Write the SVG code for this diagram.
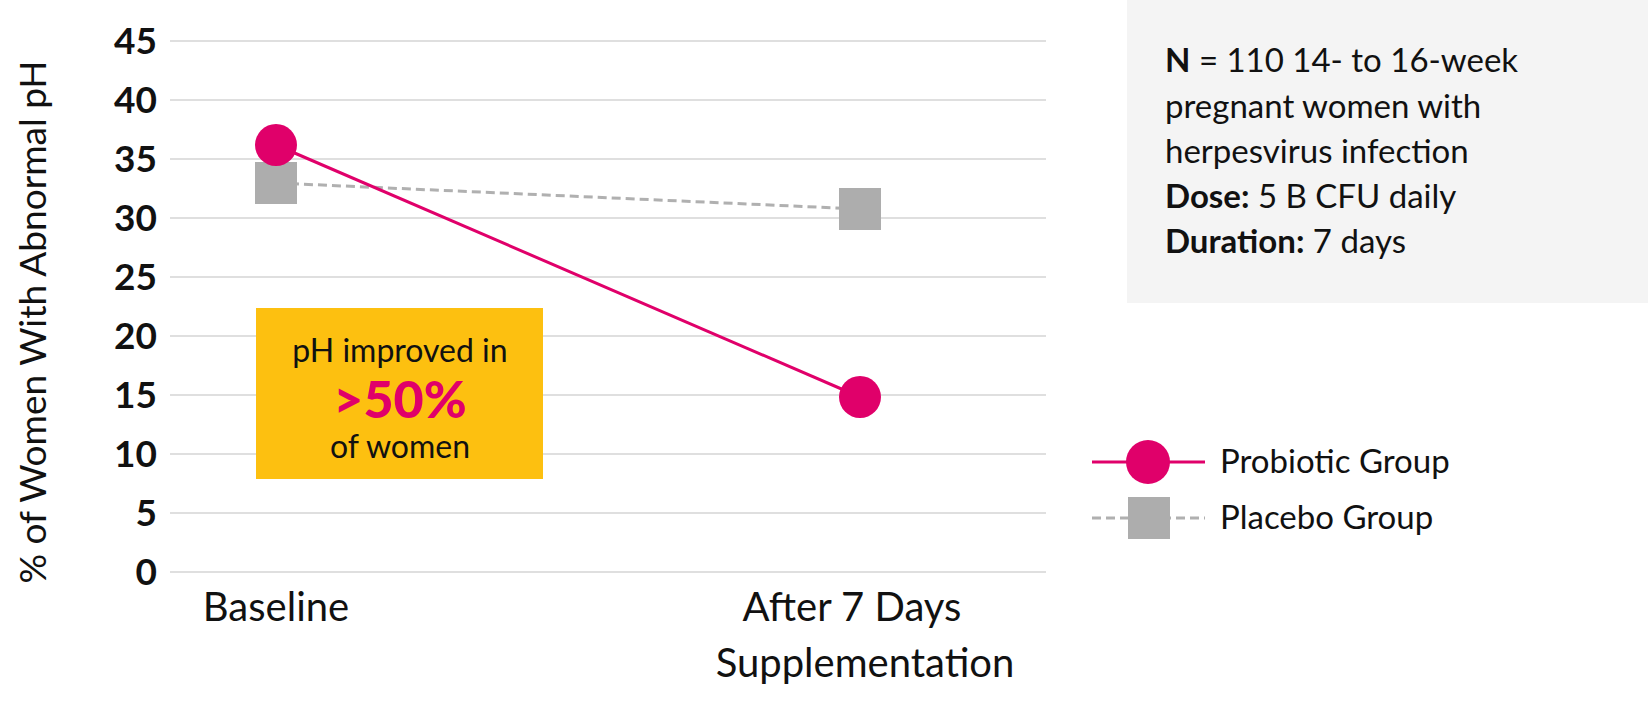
<svg xmlns="http://www.w3.org/2000/svg" width="1648" height="726" viewBox="0 0 1648 726">
<style>
text{font-family:Lato,"Noto Sans",sans-serif;fill:#111}
.g{stroke:#d4d4d4;stroke-width:1.5}
.yl{font-size:37px;font-weight:bold;text-anchor:end}
.t{font-size:33px}
.x{font-size:40px;text-anchor:middle}
</style>
<rect width="1648" height="726" fill="#fff"/>
<g id="grid">
<line class="g" x1="170" x2="1046" y1="41" y2="41"/>
<line class="g" x1="170" x2="1046" y1="100" y2="100"/>
<line class="g" x1="170" x2="1046" y1="159" y2="159"/>
<line class="g" x1="170" x2="1046" y1="218" y2="218"/>
<line class="g" x1="170" x2="1046" y1="277" y2="277"/>
<line class="g" x1="170" x2="1046" y1="336" y2="336"/>
<line class="g" x1="170" x2="1046" y1="395" y2="395"/>
<line class="g" x1="170" x2="1046" y1="454" y2="454"/>
<line class="g" x1="170" x2="1046" y1="513" y2="513"/>
<line class="g" x1="170" x2="1046" y1="572" y2="572"/>
</g>
<g id="yaxis">
<text class="yl" x="157" y="54">45</text>
<text class="yl" x="157" y="113">40</text>
<text class="yl" x="157" y="172">35</text>
<text class="yl" x="157" y="231">30</text>
<text class="yl" x="157" y="290">25</text>
<text class="yl" x="157" y="349">20</text>
<text class="yl" x="157" y="408">15</text>
<text class="yl" x="157" y="467">10</text>
<text class="yl" x="157" y="526">5</text>
<text class="yl" x="157" y="585">0</text>
<text transform="translate(46,322) rotate(-90)" text-anchor="middle" style="font-size:37px">% of Women With Abnormal pH</text>
</g>
<g id="xaxis">
<text class="x" x="276" y="621">Baseline</text>
<text class="x" x="852" y="621">After 7 Days</text>
<text class="x" x="865" y="677">Supplementation</text>
</g>
<g id="connectors">
<line x1="276" y1="183" x2="860" y2="209" stroke="#b0b0b0" stroke-width="3" stroke-dasharray="9,5"/>
<line x1="276" y1="145" x2="860" y2="397" stroke="#e0006a" stroke-width="3"/>
</g>
<g id="placebo">
<rect x="255" y="162" width="42" height="42" fill="#adadad"/>
<rect x="839" y="188" width="42" height="42" fill="#adadad"/>
</g>
<g id="probiotic">
<circle cx="276" cy="145" r="21" fill="#e0006a"/>
<circle cx="860" cy="397" r="21" fill="#e0006a"/>
</g>
<g id="callout">
<rect x="256" y="308" width="287" height="171" fill="#fdc010"/>
<text x="400" y="362" text-anchor="middle" style="font-size:32px">pH improved in</text>
<text x="400" y="418" text-anchor="middle" style="font-size:52px;font-weight:900;fill:#e0006a">&gt;50%</text>
<text x="400" y="458" text-anchor="middle" style="font-size:32px">of women</text>
</g>
<g id="info">
<rect x="1127" y="0" width="521" height="303" fill="#f4f4f4"/>
<text class="t" x="1165" y="72"><tspan font-weight="bold">N</tspan> = 110 14- to 16-week</text>
<text class="t" x="1165" y="118">pregnant women with</text>
<text class="t" x="1165" y="163">herpesvirus infection</text>
<text class="t" x="1165" y="208"><tspan font-weight="bold">Dose:</tspan> 5 B CFU daily</text>
<text class="t" x="1165" y="253"><tspan font-weight="bold">Duration:</tspan> 7 days</text>
</g>
<g id="legend">
<line x1="1092" x2="1205" y1="462" y2="462" stroke="#e0006a" stroke-width="3"/>
<circle cx="1148" cy="462" r="22" fill="#e0006a"/>
<text class="t" x="1220" y="473">Probiotic Group</text>
<line x1="1092" x2="1205" y1="518" y2="518" stroke="#b0b0b0" stroke-width="3" stroke-dasharray="9,5"/>
<rect x="1128" y="497" width="42" height="42" fill="#adadad"/>
<text class="t" x="1220" y="529">Placebo Group</text>
</g>
</svg>
